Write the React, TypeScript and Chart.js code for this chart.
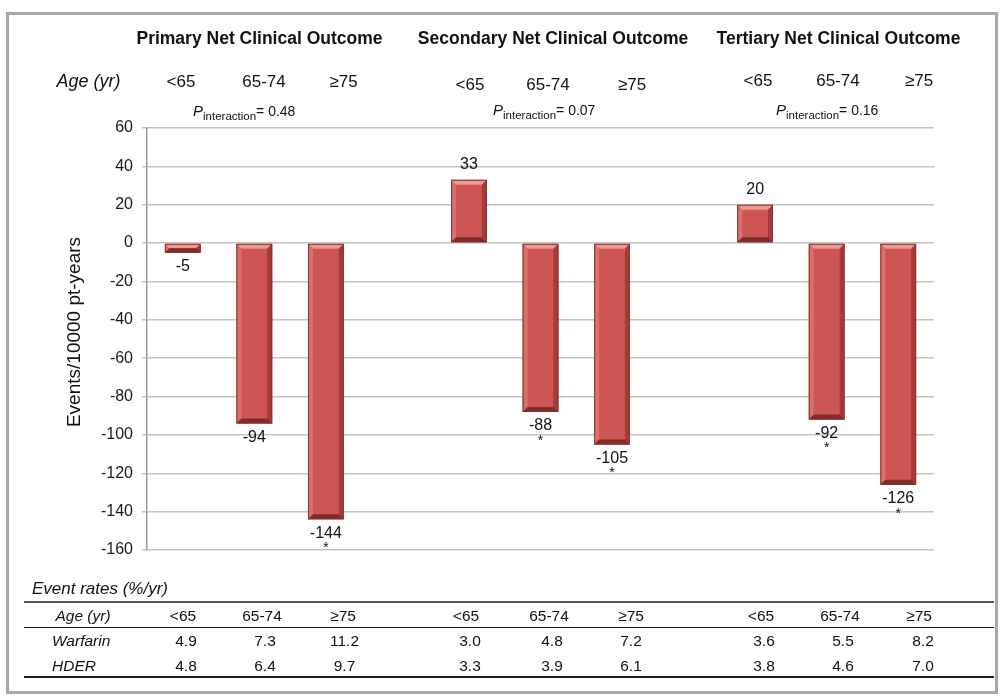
import React, { useEffect, useRef } from 'react';
import { Chart, registerables } from 'chart.js';

Chart.register(...registerables);

// ---------- data ----------
const categories = ['<65', '65-74', '≥75', '', '<65', '65-74', '≥75', '', '<65', '65-74', '≥75'];
const values: (number | null)[] = [-5, -94, -144, null, 33, -88, -105, null, 20, -92, -126];
const significant = [false, false, true, false, false, true, true, false, false, true, true];
const outcomes = ['Primary Net Clinical Outcome', 'Secondary Net Clinical Outcome', 'Tertiary Net Clinical Outcome'];
const ageGroups = ['<65', '65-74', '≥75'];
const pInteraction = ['0.48', '0.07', '0.16'];
const warfarinRates = [4.9, 7.3, 11.2, 3.0, 4.8, 7.2, 3.6, 5.5, 8.2];
const hderRates = [4.8, 6.4, 9.7, 3.3, 3.9, 6.1, 3.8, 4.6, 7.0];
const yMin = -160;
const yMax = 60;
const yStep = 20;
const yTitle = 'Events/10000 pt-years';

// ---------- layout / style ----------
const FONT = '"Liberation Sans", Arial, Helvetica, sans-serif';
const headerX = [259.5, 553, 838.5];
const headerAgeX = [[181, 264, 343.5], [470, 548, 632], [758, 838, 919]];
const headerAgeY = [81, 84, 80];
const pX = [193, 493, 776];
const pY = [111, 110, 110];
const tableHeadX = [183, 262, 343, 466, 549, 631, 761, 840, 919];
const tableValX = [186, 265, 344.5, 470, 552, 631, 764, 843, 923];

const bevelPlugin = {
  id: 'bevel',
  afterDatasetsDraw(chart: any) {
    const ctx = chart.ctx as CanvasRenderingContext2D;
    const meta = chart.getDatasetMeta(0);
    meta.data.forEach((el: any, i: number) => {
      if (values[i] == null) return;
      const { x, y, base, width } = el.getProps(['x', 'y', 'base', 'width'], true);
      const l = x - width / 2;
      const r = x + width / 2;
      const t = Math.min(y, base);
      const b = Math.max(y, base);
      const bv = Math.min(5, (b - t) / 2);
      const poly = (pts: number[][], color: string) => {
        ctx.beginPath();
        ctx.moveTo(pts[0][0], pts[0][1]);
        for (let k = 1; k < pts.length; k++) ctx.lineTo(pts[k][0], pts[k][1]);
        ctx.closePath();
        ctx.fillStyle = color;
        ctx.fill();
      };
      ctx.save();
      poly([[l, t], [r, t], [r - bv, t + bv], [l + bv, t + bv]], '#ec9a96');
      poly([[l, t], [l + bv, t + bv], [l + bv, b - bv], [l, b]], '#d8706c');
      poly([[r, t], [r, b], [r - bv, b - bv], [r - bv, t + bv]], '#a13d3a');
      poly([[l, b], [r, b], [r - bv, b - bv], [l + bv, b - bv]], '#7c2c2a');
      ctx.strokeStyle = '#8c3330';
      ctx.lineWidth = 1;
      ctx.strokeRect(l + 0.5, t + 0.5, width - 1, b - t - 1);
      ctx.restore();
    });
  },
};

const labelPlugin = {
  id: 'valueLabels',
  afterDatasetsDraw(chart: any) {
    const ctx = chart.ctx as CanvasRenderingContext2D;
    const meta = chart.getDatasetMeta(0);
    ctx.save();
    ctx.fillStyle = '#111';
    ctx.textAlign = 'center';
    ctx.textBaseline = 'middle';
    meta.data.forEach((el: any, i: number) => {
      const v = values[i];
      if (v == null) return;
      const { x, y } = el.getProps(['x', 'y'], true);
      ctx.font = `16px ${FONT}`;
      if (v < 0) {
        ctx.fillText(String(v), x, y + 14);
        if (significant[i]) {
          ctx.font = `14px ${FONT}`;
          ctx.fillText('*', x, y + 29);
        }
      } else {
        ctx.fillText(String(v), x, y - 15);
      }
    });
    ctx.restore();
  },
};

const yTitlePlugin = {
  id: 'yTitle',
  afterDraw(chart: any) {
    const ctx = chart.ctx as CanvasRenderingContext2D;
    ctx.save();
    ctx.translate(75, 332);
    ctx.rotate(-Math.PI / 2);
    ctx.font = `19px ${FONT}`;
    ctx.fillStyle = '#111';
    ctx.textAlign = 'center';
    ctx.textBaseline = 'middle';
    ctx.fillText(yTitle, 0, 0);
    ctx.restore();
  },
};

function T(props: { x: number; y: number; align?: 'center' | 'left'; style?: React.CSSProperties; children: React.ReactNode }) {
  const { x, y, align = 'center', style, children } = props;
  return (
    <div
      style={{
        position: 'absolute',
        left: x,
        top: y,
        transform: align === 'center' ? 'translate(-50%, -50%)' : 'translate(0, -50%)',
        whiteSpace: 'nowrap',
        lineHeight: 1,
        fontFamily: FONT,
        color: '#111',
        ...style,
      }}
    >
      {children}
    </div>
  );
}

function HLine(props: { y: number; h: number; color: string }) {
  return (
    <div
      style={{
        position: 'absolute',
        left: 24,
        width: 970,
        top: props.y - props.h / 2,
        height: props.h,
        background: props.color,
      }}
    />
  );
}

export default function App() {
  const ref = useRef<HTMLCanvasElement | null>(null);

  useEffect(() => {
    if (!ref.current) return;
    const chart = new Chart(ref.current, {
      type: 'bar',
      data: {
        labels: categories,
        datasets: [
          {
            data: values as any,
            backgroundColor: '#cd5553',
            borderWidth: 0,
            barPercentage: 0.5,
            categoryPercentage: 1,
          },
        ],
      },
      options: {
        responsive: false,
        animation: false,
        layout: { padding: { left: 0, top: 128, right: 67, bottom: 146 } },
        plugins: {
          legend: { display: false },
          tooltip: { enabled: false },
          title: { display: false },
        },
        scales: {
          x: { display: false, offset: true },
          y: {
            min: yMin,
            max: yMax,
            ticks: {
              stepSize: yStep,
              font: { family: FONT, size: 16 },
              color: '#1a1a1a',
              padding: 9,
            },
            grid: { color: '#c4c4c4', lineWidth: 1.5, tickLength: 5 },
            border: { color: '#9a9a9a', width: 1.5 },
            afterFit: (s: any) => {
              s.width = 147;
            },
          },
        },
      },
      plugins: [bevelPlugin, labelPlugin, yTitlePlugin],
    });
    return () => chart.destroy();
  }, []);

  return (
    <div style={{ position: 'absolute', left: 0, top: 0, width: 1001, height: 696, background: '#fff', overflow: 'hidden' }}>
      <canvas ref={ref} width={1001} height={696} style={{ position: 'absolute', left: 0, top: 0 }} />
      <div
        style={{
          position: 'absolute',
          left: 6,
          top: 12,
          width: 992,
          height: 682,
          border: '3px solid #a8a8a8',
          boxSizing: 'border-box',
        }}
      />
      {outcomes.map((o, g) => (
        <T key={'h' + g} x={headerX[g]} y={39} style={{ fontWeight: 'bold', fontSize: 17.5 }}>
          {o}
        </T>
      ))}
      <T x={88.5} y={81} style={{ fontStyle: 'italic', fontSize: 18 }}>
        Age (yr)
      </T>
      {headerAgeX.map((xs, g) =>
        xs.map((x, k) => (
          <T key={'a' + g + k} x={x} y={headerAgeY[g]} style={{ fontSize: 17 }}>
            {ageGroups[k]}
          </T>
        ))
      )}
      {pInteraction.map((p, g) => (
        <T key={'p' + g} x={pX[g]} y={pY[g]} align="left" style={{ fontSize: 14 }}>
          <span style={{ fontStyle: 'italic', fontSize: 15 }}>P</span>
          <span style={{ fontSize: 11.5, position: 'relative', top: 4 }}>interaction</span>
          <span>= {p}</span>
        </T>
      ))}

      <T x={32} y={588} align="left" style={{ fontStyle: 'italic', fontSize: 17 }}>
        Event rates (%/yr)
      </T>
      <HLine y={602} h={1.5} color="#555" />
      <HLine y={627.5} h={1.5} color="#111" />
      <HLine y={677} h={2.5} color="#222" />
      <T x={83} y={616} style={{ fontStyle: 'italic', fontSize: 15.5 }}>
        Age (yr)
      </T>
      {tableHeadX.map((x, k) => (
        <T key={'th' + k} x={x} y={616} style={{ fontSize: 15.5 }}>
          {ageGroups[k % 3]}
        </T>
      ))}
      <T x={52} y={641} align="left" style={{ fontStyle: 'italic', fontSize: 15.5 }}>
        Warfarin
      </T>
      <T x={52} y={666} align="left" style={{ fontStyle: 'italic', fontSize: 15.5 }}>
        HDER
      </T>
      {warfarinRates.map((v, k) => (
        <T key={'w' + k} x={tableValX[k]} y={641} style={{ fontSize: 15.5 }}>
          {v.toFixed(1)}
        </T>
      ))}
      {hderRates.map((v, k) => (
        <T key={'d' + k} x={tableValX[k]} y={666} style={{ fontSize: 15.5 }}>
          {v.toFixed(1)}
        </T>
      ))}
    </div>
  );
}
